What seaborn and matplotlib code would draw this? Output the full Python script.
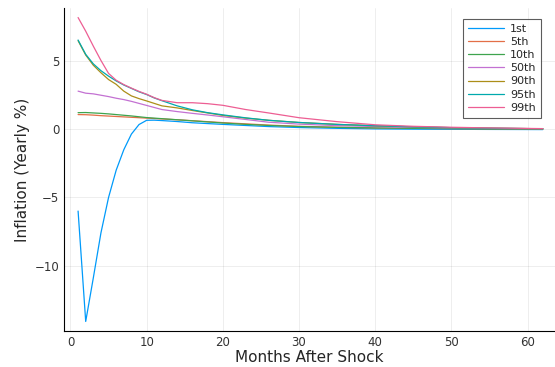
import numpy as np
import matplotlib
matplotlib.use("Agg")
import matplotlib.pyplot as plt
import pandas as pd
import seaborn as sns

months = [1, 2, 3, 4, 5, 6, 7, 8, 9, 10, 11, 12, 14, 16, 18, 20, 23, 26, 30, 35, 40, 45, 50, 55, 62]

p1 = [-6.0, -14.1, -10.9, -7.6, -5.0, -3.0, -1.5, -0.35, 0.35, 0.66, 0.67, 0.64, 0.57, 0.48, 0.42,
      0.36, 0.28, 0.2, 0.13, 0.07, 0.03, 0.01, 0.0, -0.01, -0.02]
p5 = [1.08, 1.07, 1.04, 1.0, 0.97, 0.94, 0.91, 0.88, 0.85, 0.82, 0.79, 0.76, 0.7, 0.63, 0.56,
      0.49, 0.4, 0.31, 0.22, 0.15, 0.1, 0.07, 0.05, 0.03, 0.02]
p10 = [1.22, 1.23, 1.2, 1.17, 1.13, 1.08, 1.03, 0.98, 0.92, 0.86, 0.82, 0.78, 0.7, 0.62, 0.54,
       0.46, 0.36, 0.28, 0.2, 0.14, 0.1, 0.07, 0.05, 0.03, 0.02]
p50 = [2.8, 2.65, 2.6, 2.5, 2.4, 2.28, 2.18, 2.05, 1.9, 1.75, 1.6, 1.45, 1.3, 1.17, 1.05,
       0.92, 0.72, 0.52, 0.38, 0.27, 0.2, 0.14, 0.1, 0.07, 0.04]
p90 = [6.5, 5.45, 4.7, 4.15, 3.65, 3.3, 2.8, 2.45, 2.25, 2.08, 1.9, 1.72, 1.57, 1.38, 1.2,
       1.02, 0.82, 0.66, 0.5, 0.36, 0.26, 0.18, 0.12, 0.08, 0.04]
p95 = [6.55, 5.5, 4.8, 4.3, 3.9, 3.55, 3.25, 3.0, 2.75, 2.55, 2.3, 2.1, 1.72, 1.43, 1.22,
       1.06, 0.84, 0.66, 0.5, 0.36, 0.26, 0.18, 0.12, 0.08, 0.04]
p99 = [8.2, 7.2, 6.1, 5.05, 4.1, 3.6, 3.28, 3.02, 2.78, 2.57, 2.32, 2.12, 1.95, 1.95, 1.88,
       1.76, 1.45, 1.2, 0.85, 0.56, 0.33, 0.22, 0.15, 0.1, 0.05]

labels = ["1st", "5th", "10th", "50th", "90th", "95th", "99th"]
colors = ["#009AFA", "#E36F47", "#3EA44E", "#C371D2", "#AC8E18", "#00A9AD", "#ED5E93"]

series = [p1, p5, p10, p50, p90, p95, p99]
df = pd.concat([pd.DataFrame({"month": months, "value": v, "pct": lab})
                for lab, v in zip(labels, series)], ignore_index=True)

sns.set_style("white")
fig = plt.figure(figsize=(5.55, 3.67), dpi=100)
ax = fig.add_axes([0.1153, 0.0981, 0.8847, 0.8801])

sns.lineplot(data=df, x="month", y="value", hue="pct", hue_order=labels,
             palette=colors, linewidth=0.9, estimator=None, ax=ax)

ax.set_xlim(-0.85, 63.6)
ax.set_ylim(-14.8, 8.9)
ax.set_xticks([0, 10, 20, 30, 40, 50, 60])
ax.set_yticks([-10, -5, 0, 5])
ax.set_yticklabels(["\u221210", "\u22125", "0", "5"])
ax.grid(True, color="black", alpha=0.08, linewidth=0.6)
ax.tick_params(direction="in", length=3, width=0.8, labelsize=8.5,
               labelcolor="#333333", color="black")
for s in ["top", "right"]:
    ax.spines[s].set_visible(False)
for s in ["left", "bottom"]:
    ax.spines[s].set_color("black")
    ax.spines[s].set_linewidth(0.8)

ax.set_xlabel("Months After Shock", fontsize=11, labelpad=1)
ax.set_ylabel("Inflation (Yearly %)", fontsize=11, labelpad=3)

handles, labs = ax.get_legend_handles_labels()
leg = ax.legend(handles, labs, loc="upper right", bbox_to_anchor=(0.9715, 0.966),
                borderaxespad=0, fontsize=8, frameon=True, fancybox=False,
                handlelength=3.2, borderpad=0.45, labelspacing=0.28, handletextpad=0.6)
leg.get_frame().set_edgecolor("#333333")
leg.get_frame().set_linewidth(0.8)

fig.savefig("out.png", dpi=100)
